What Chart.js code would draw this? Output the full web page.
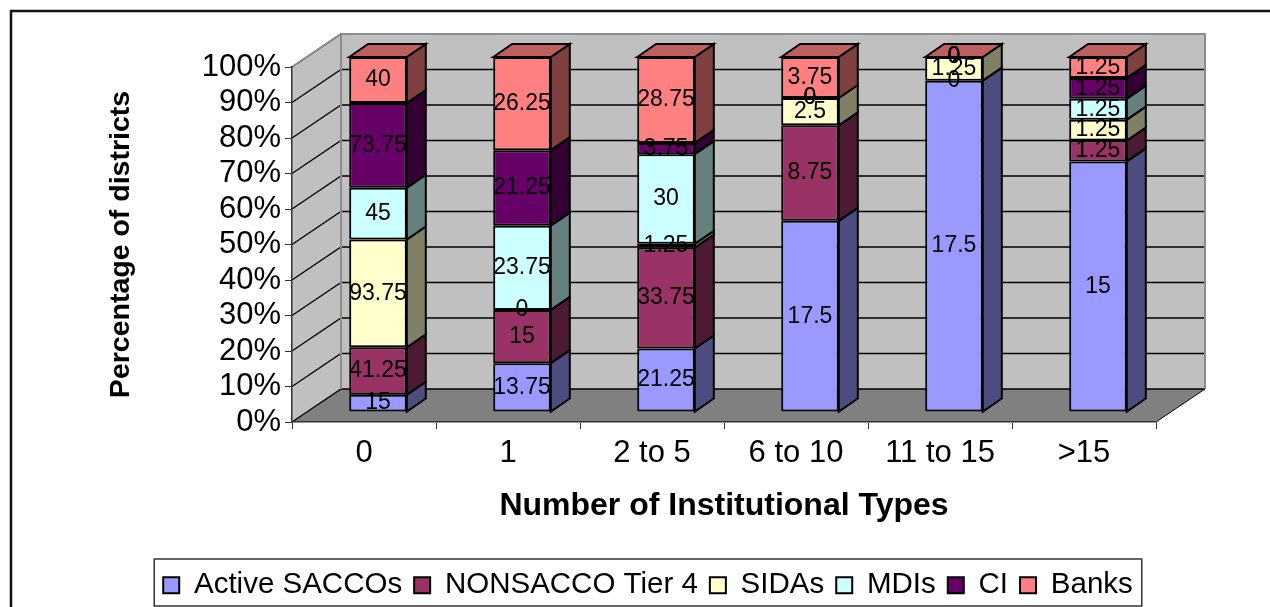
<!DOCTYPE html>
<html>
<head>
  <meta charset="UTF-8">
  <title>Institutional types by district</title>
  <script src="https://cdn.jsdelivr.net/npm/chart.js"></script>
  <style>
    html, body { margin: 0; padding: 0; background: #fff; }
    canvas { display: block; }
  </style>
</head>
<body>
  <canvas id="chart" width="1270" height="607"></canvas>
  <script>
    const categories = ['0', '1', '2 to 5', '6 to 10', '11 to 15', '>15'];
    const activeSaccos = [15, 13.75, 21.25, 17.5, 17.5, 15];
    const nonSacco = [41.25, 15, 33.75, 8.75, 0, 1.25];
    const sidas = [93.75, 0, 1.25, 2.5, 1.25, 1.25];
    const mdis = [45, 23.75, 30, 0, 0, 1.25];
    const ci = [73.75, 21.25, 3.75, 0, 0, 1.25];
    const banks = [40, 26.25, 28.75, 3.75, 0, 1.25];
    const yTicks = [0, 10, 20, 30, 40, 50, 60, 70, 80, 90, 100];

    const FONT = '"Liberation Sans", Arial, sans-serif';
    // depth of the box, and how far the bars stand in from the front edge
    const wallDx = 49, wallDy = 33;
    const barDx = 14, barDy = 10;
    const sideDx = 19, sideDy = 13;
    const padBottom = -3;

    const seriesList = [
      ['Active SACCOs', activeSaccos, '#9999FF', '#4D4D80'],
      ['NONSACCO Tier 4', nonSacco, '#993366', '#4D1A33'],
      ['SIDAs', sidas, '#FFFFCC', '#808066'],
      ['MDIs', mdis, '#CCFFFF', '#668080'],
      ['CI', ci, '#660066', '#330033'],
      ['Banks', banks, '#FF8080', '#804040']
    ];

    const totals = categories.map((c, i) => seriesList.reduce((s, row) => s + row[1][i], 0));

    function poly(ctx, pts, fill, stroke, lw) {
      ctx.beginPath();
      pts.forEach((p, i) => i ? ctx.lineTo(p[0], p[1]) : ctx.moveTo(p[0], p[1]));
      ctx.closePath();
      if (fill) { ctx.fillStyle = fill; ctx.fill(); }
      if (stroke) { ctx.strokeStyle = stroke; ctx.lineWidth = lw; ctx.stroke(); }
    }

    // outer frame, legend box, walls, floor and gridlines
    const boxPlugin = {
      id: 'box',
      beforeDraw(chart) {
        const ctx = chart.ctx;
        const a = chart.chartArea;
        const bl = a.left + wallDx, bb = a.bottom - wallDy, bt = a.top - wallDy, br = a.right + wallDx;
        ctx.save();
        ctx.fillStyle = '#fff';
        ctx.fillRect(0, 0, chart.width, chart.height);
        // the frame runs off the right and bottom of the picture
        ctx.strokeStyle = '#111';
        ctx.lineWidth = 2.5;
        ctx.strokeRect(11, 11, 1280, 620);

        poly(ctx, [[bl, bt], [br, bt], [br, bb], [bl, bb]], '#C0C0C0');
        poly(ctx, [[a.left, a.top], [bl, bt], [bl, bb], [a.left, a.bottom]], '#C0C0C0');
        poly(ctx, [[a.left, a.bottom], [bl, bb], [br, bb], [a.right, a.bottom]], '#808080');

        ctx.strokeStyle = '#000';
        ctx.lineWidth = 1.3;
        chart.scales.y.ticks.forEach(t => {
          const y = chart.scales.y.getPixelForValue(t.value);
          ctx.beginPath();
          ctx.moveTo(a.left, y);
          ctx.lineTo(bl, y - wallDy);
          ctx.lineTo(br, y - wallDy);
          ctx.stroke();
        });

        ctx.strokeStyle = '#8C8C8C';
        ctx.lineWidth = 2;
        ctx.beginPath();
        ctx.moveTo(a.left, a.top);
        ctx.lineTo(bl, bt);
        ctx.lineTo(br, bt);
        ctx.lineTo(br, bb);
        ctx.moveTo(bl, bt);
        ctx.lineTo(bl, bb);
        ctx.stroke();
        ctx.strokeStyle = '#000';
        ctx.lineWidth = 1;
        ctx.beginPath();
        ctx.moveTo(a.right, a.bottom);
        ctx.lineTo(br, bb);
        ctx.stroke();

        const hits = chart.legend.legendHitBoxes;
        const last = hits[hits.length - 1];
        ctx.strokeStyle = '#333';
        ctx.lineWidth = 1.5;
        ctx.strokeRect(hits[0].left - 9, 559, last.left + last.width - hits[0].left + 18, 47);
        ctx.restore();
      },
      beforeDatasetsDraw(chart) {
        chart.ctx.save();
        chart.ctx.translate(barDx, -barDy);
      },
      afterDatasetsDraw(chart) {
        const ctx = chart.ctx;
        const metas = chart.getSortedVisibleDatasetMetas();
        metas.forEach((meta, d) => {
          meta.data.forEach(bar => {
            const r = bar.x + bar.width / 2;
            const l = bar.x - bar.width / 2;
            if (bar.base - bar.y > 0.1) {
              poly(ctx, [[r, bar.y], [r + sideDx, bar.y - sideDy], [r + sideDx, bar.base - sideDy], [r, bar.base]],
                seriesList[d][3], '#000', 2);
            }
            if (d === metas.length - 1) {
              poly(ctx, [[l, bar.y], [l + sideDx, bar.y - sideDy], [r + sideDx, bar.y - sideDy], [r, bar.y]],
                '#BF6060', '#000', 2);
            }
          });
        });
        // value labels show the raw numbers, not the shares
        ctx.fillStyle = '#000';
        ctx.font = '23px ' + FONT;
        ctx.textAlign = 'center';
        ctx.textBaseline = 'middle';
        metas.forEach((meta, d) => {
          meta.data.forEach((bar, i) => {
            ctx.fillText(String(seriesList[d][1][i]), bar.x, (bar.y + bar.base) / 2);
          });
        });
        ctx.restore();
      }
    };

    new Chart(document.getElementById('chart'), {
      type: 'bar',
      data: {
        labels: categories,
        datasets: seriesList.map(row => ({
          label: row[0],
          data: row[1].map((v, i) => v / totals[i] * 100),
          backgroundColor: row[2],
          borderColor: '#000',
          borderWidth: 2,
          borderSkipped: false,
          categoryPercentage: 1,
          barPercentage: 0.4,
          clip: false
        }))
      },
      plugins: [boxPlugin],
      options: {
        responsive: false,
        animation: false,
        layout: { padding: { left: 140, right: 114, top: 67, bottom: padBottom } },
        plugins: {
          tooltip: { enabled: false },
          legend: {
            position: 'bottom',
            labels: {
              color: '#000',
              font: { family: FONT, size: 29.5 },
              boxWidth: 16,
              boxHeight: 16,
              padding: 12
            }
          }
        },
        scales: {
          x: {
            stacked: true,
            afterFit(s) { s.height = 607 - 422 - padBottom - s.chart.legend.height; },
            grid: { drawOnChartArea: false, color: '#333', tickLength: 7 },
            border: { color: '#333', width: 1.5 },
            ticks: { color: '#000', font: { family: FONT, size: 31 }, padding: 6, maxRotation: 0, autoSkip: false },
            title: {
              display: true,
              text: 'Number of Institutional Types',
              color: '#000',
              font: { family: FONT, size: 32, weight: 'bold' },
              padding: { top: 14, bottom: 33 }
            }
          },
          y: {
            stacked: true,
            min: 0,
            max: 100,
            afterFit(s) { s.width = 152; },
            afterBuildTicks(s) { s.ticks = yTicks.map(v => ({ value: v })); },
            grid: { drawOnChartArea: false, color: '#333', tickLength: 7 },
            border: { color: '#333', width: 1.5 },
            ticks: {
              color: '#000',
              font: { family: FONT, size: 31 },
              padding: 4,
              autoSkip: false,
              callback: v => v + '%'
            },
            title: {
              display: true,
              text: 'Percentage of districts',
              color: '#000',
              font: { family: FONT, size: 28.5, weight: 'bold' },
              padding: { top: -36, bottom: 0 }
            }
          }
        }
      }
    });
  </script>
</body>
</html>
